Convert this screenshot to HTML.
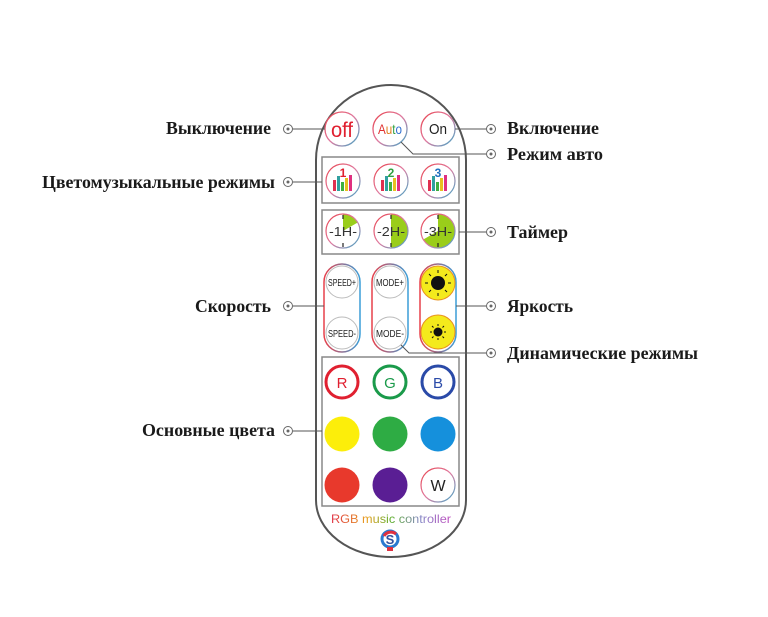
<!DOCTYPE html>
<html><head><meta charset="utf-8"><style>
html,body{margin:0;padding:0;background:#fff}
svg{display:block}
.l{font-family:"Liberation Serif",serif;font-weight:bold;font-size:17.5px;fill:#1a1a1a}
.b{font-family:"Liberation Sans",sans-serif}
</style></head><body>
<svg width="768" height="617" viewBox="0 0 768 617" xmlns="http://www.w3.org/2000/svg">
<defs>
<linearGradient id="rg" x1="0" y1="0" x2="1" y2="1">
<stop offset="0" stop-color="#e8404a"/><stop offset="0.5" stop-color="#e07aa0"/><stop offset="1" stop-color="#3aa8c8"/>
</linearGradient>
<linearGradient id="pg" x1="0" y1="0" x2="1" y2="0">
<stop offset="0" stop-color="#e8404a"/><stop offset="1" stop-color="#3a9ed8"/>
</linearGradient>
<linearGradient id="tg" x1="0" y1="0" x2="1" y2="0">
<stop offset="0" stop-color="#e0344a"/><stop offset="0.3" stop-color="#e8a020"/><stop offset="0.5" stop-color="#60b030"/><stop offset="0.75" stop-color="#8a8ac8"/><stop offset="1" stop-color="#c050c0"/>
</linearGradient>
</defs>
<path d="M316,160 A75,75 0 0 1 466,160 L466,500 A75,57 0 0 1 316,500 Z" fill="#fff" stroke="#555" stroke-width="2"/>
<rect x="322" y="157" width="137" height="46" fill="none" stroke="#888" stroke-width="1.5"/>
<rect x="322" y="210" width="137" height="44" fill="none" stroke="#888" stroke-width="1.5"/>
<rect x="322" y="357" width="137" height="149" fill="none" stroke="#888" stroke-width="1.5"/>
<g stroke="url(#rg)" stroke-width="1.3" fill="#fff">
<circle cx="342" cy="129" r="17"/><circle cx="390" cy="129" r="17"/><circle cx="438" cy="129" r="17"/>
</g>
<text x="342" y="137" text-anchor="middle" class="b" font-size="21" fill="#e02030" textLength="22" lengthAdjust="spacingAndGlyphs">off</text>
<text x="390" y="134" text-anchor="middle" class="b" font-size="14" textLength="24" lengthAdjust="spacingAndGlyphs"><tspan fill="#e03030">A</tspan><tspan fill="#e08020">u</tspan><tspan fill="#30a040">t</tspan><tspan fill="#3070d0">o</tspan></text>
<text x="438" y="134" text-anchor="middle" class="b" font-size="15" fill="#222" textLength="18" lengthAdjust="spacingAndGlyphs">On</text>
<g stroke="url(#rg)" stroke-width="1.2" fill="#fff">
<circle cx="343" cy="181" r="17"/><circle cx="391" cy="181" r="17"/><circle cx="438" cy="181" r="17"/>
</g>
<g id="bars">
<rect x="333" y="180" width="3" height="11" fill="#e03050"/><rect x="337" y="176" width="3" height="15" fill="#30a0a0"/><rect x="341" y="182" width="3" height="9" fill="#40b040"/><rect x="345" y="178" width="3" height="13" fill="#e8c020"/><rect x="349" y="175" width="3" height="16" fill="#e03080"/>
</g>
<use href="#bars" x="48"/><use href="#bars" x="95"/>
<text x="343" y="177" text-anchor="middle" class="b" font-weight="bold" font-size="12" fill="#e02030">1</text>
<text x="391" y="177" text-anchor="middle" class="b" font-weight="bold" font-size="12" fill="#30a040">2</text>
<text x="438" y="177" text-anchor="middle" class="b" font-weight="bold" font-size="12" fill="#2070c0">3</text>
<g stroke="none" fill="#9acd1a">
<path d="M343,231 L343,214 A17,17 0 0 1 357.7,222.5 Z"/>
<path d="M391,231 L391,214 A17,17 0 0 1 391,248 Z"/>
<path d="M438,231 L438,214 A17,17 0 1 1 423.3,239.5 Z"/>
</g>
<g stroke="url(#rg)" stroke-width="1.2" fill="none">
<circle cx="343" cy="231" r="17"/><circle cx="391" cy="231" r="17"/><circle cx="438" cy="231" r="17"/>
</g>
<g stroke="#222" stroke-width="1.2">
<path d="M343,215v4M343,243v4M391,215v4M391,243v4M438,215v4M438,243v4"/>
</g>
<text x="343" y="236" text-anchor="middle" class="b" font-size="13" fill="#333" textLength="28" lengthAdjust="spacingAndGlyphs">-1H-</text>
<text x="391" y="236" text-anchor="middle" class="b" font-size="13" fill="#333" textLength="28" lengthAdjust="spacingAndGlyphs">-2H-</text>
<text x="438" y="236" text-anchor="middle" class="b" font-size="13" fill="#333" textLength="28" lengthAdjust="spacingAndGlyphs">-3H-</text>
<g fill="#fff" stroke="url(#pg)" stroke-width="1.5">
<rect x="324" y="264" width="36" height="88" rx="18"/>
<rect x="372" y="264" width="36" height="88" rx="18"/>
<rect x="420" y="264" width="36" height="88" rx="18"/>
</g>
<g stroke="#bbb" stroke-width="1" fill="#fff">
<circle cx="342" cy="282" r="16"/><circle cx="342" cy="333" r="16"/><circle cx="390" cy="282" r="16"/><circle cx="390" cy="333" r="16"/>
</g>
<text x="342" y="286" text-anchor="middle" class="b" font-size="10" fill="#222" textLength="28" lengthAdjust="spacingAndGlyphs">SPEED+</text>
<text x="342" y="337" text-anchor="middle" class="b" font-size="10" fill="#222" textLength="28" lengthAdjust="spacingAndGlyphs">SPEED-</text>
<text x="390" y="286" text-anchor="middle" class="b" font-size="10" fill="#222" textLength="28" lengthAdjust="spacingAndGlyphs">MODE+</text>
<text x="390" y="337" text-anchor="middle" class="b" font-size="10" fill="#222" textLength="28" lengthAdjust="spacingAndGlyphs">MODE-</text>
<circle cx="438" cy="283" r="17" fill="#f4ea1c" stroke="#e89020" stroke-width="1"/>
<circle cx="438" cy="283" r="7" fill="#111"/>
<circle cx="438" cy="332" r="17" fill="#f4ea1c" stroke="#e89020" stroke-width="1"/>
<circle cx="438" cy="332" r="4.5" fill="#111"/>
<g stroke="#111" stroke-width="1">
<path d="M438,270v3M438,293v3M425,283h3M448,283h3M429,274l2,2M445,290l2,2M447,274l-2,2M429,292l2,-2"/>
<path d="M438,324v2M438,338v2M430,332h2M444,332h2M432,326l1.5,1.5M442.5,336.5l1.5,1.5M444,326l-1.5,1.5M432,338l1.5,-1.5"/>
</g>
<circle cx="342" cy="382" r="16" fill="#fff" stroke="#e02030" stroke-width="3"/>
<circle cx="390" cy="382" r="16" fill="#fff" stroke="#1a9a4a" stroke-width="3"/>
<circle cx="438" cy="382" r="16" fill="#fff" stroke="#2a4aa8" stroke-width="3"/>
<text x="342" y="388" text-anchor="middle" class="b" font-size="15" fill="#e02030">R</text>
<text x="390" y="388" text-anchor="middle" class="b" font-size="15" fill="#1a9a4a">G</text>
<text x="438" y="388" text-anchor="middle" class="b" font-size="15" fill="#2a4aa8">B</text>
<circle cx="342" cy="434" r="17.5" fill="#fcee0a"/>
<circle cx="390" cy="434" r="17.5" fill="#2eac44"/>
<circle cx="438" cy="434" r="17.5" fill="#1590dc"/>
<circle cx="342" cy="485" r="17.5" fill="#e8392c"/>
<circle cx="390" cy="485" r="17.5" fill="#5a1e94"/>
<circle cx="438" cy="485" r="17" fill="#fff" stroke="url(#rg)" stroke-width="1.2"/>
<text x="438" y="491" text-anchor="middle" class="b" font-size="16" fill="#222">W</text>
<text x="391" y="523" text-anchor="middle" class="b" font-size="12" fill="url(#tg)" textLength="120" lengthAdjust="spacingAndGlyphs">RGB music controller</text>
<circle cx="390" cy="539" r="8" fill="#fff" stroke="#2a7ad0" stroke-width="3"/>
<path d="M384,536 A8,8 0 0 1 396,534" stroke="#e03040" stroke-width="3" fill="none"/>
<text x="390" y="544" text-anchor="middle" class="b" font-weight="bold" font-size="13" fill="#3050a0">S</text>
<rect x="387" y="547" width="6" height="4" fill="#e03040"/>
<g stroke="#555" stroke-width="1" fill="none">
<path d="M293,129H325"/>
<path d="M293,182H322"/>
<path d="M293,306H324"/>
<path d="M293,431H322"/>
<path d="M455,129H486"/>
<path d="M401,142L413,154H486"/>
<path d="M459,232H486"/>
<path d="M456,306H486"/>
<path d="M401,345L409,353H486"/>
</g>
<g stroke="#666" stroke-width="1" fill="#fff">
<circle cx="288" cy="129" r="4.5"/><circle cx="288" cy="182" r="4.5"/><circle cx="288" cy="306" r="4.5"/><circle cx="288" cy="431" r="4.5"/>
<circle cx="491" cy="129" r="4.5"/><circle cx="491" cy="154" r="4.5"/><circle cx="491" cy="232" r="4.5"/><circle cx="491" cy="306" r="4.5"/><circle cx="491" cy="353" r="4.5"/>
</g>
<g fill="#666">
<circle cx="288" cy="129" r="1.5"/><circle cx="288" cy="182" r="1.5"/><circle cx="288" cy="306" r="1.5"/><circle cx="288" cy="431" r="1.5"/>
<circle cx="491" cy="129" r="1.5"/><circle cx="491" cy="154" r="1.5"/><circle cx="491" cy="232" r="1.5"/><circle cx="491" cy="306" r="1.5"/><circle cx="491" cy="353" r="1.5"/>
</g>
<g class="l">
<text class="l" x="271" y="134" text-anchor="end" textLength="105" lengthAdjust="spacingAndGlyphs">Выключение</text>
<text class="l" x="275" y="188" text-anchor="end" textLength="233" lengthAdjust="spacingAndGlyphs">Цветомузыкальные режимы</text>
<text class="l" x="271" y="312" text-anchor="end" textLength="76" lengthAdjust="spacingAndGlyphs">Скорость</text>
<text class="l" x="275" y="436" text-anchor="end" textLength="133" lengthAdjust="spacingAndGlyphs">Основные цвета</text>
<text class="l" x="507" y="134" textLength="92" lengthAdjust="spacingAndGlyphs">Включение</text>
<text class="l" x="507" y="160" textLength="96" lengthAdjust="spacingAndGlyphs">Режим авто</text>
<text class="l" x="507" y="238" textLength="61" lengthAdjust="spacingAndGlyphs">Таймер</text>
<text class="l" x="507" y="312" textLength="66" lengthAdjust="spacingAndGlyphs">Яркость</text>
<text class="l" x="507" y="359" textLength="191" lengthAdjust="spacingAndGlyphs">Динамические режимы</text>
</g>
</svg>
</body></html>
